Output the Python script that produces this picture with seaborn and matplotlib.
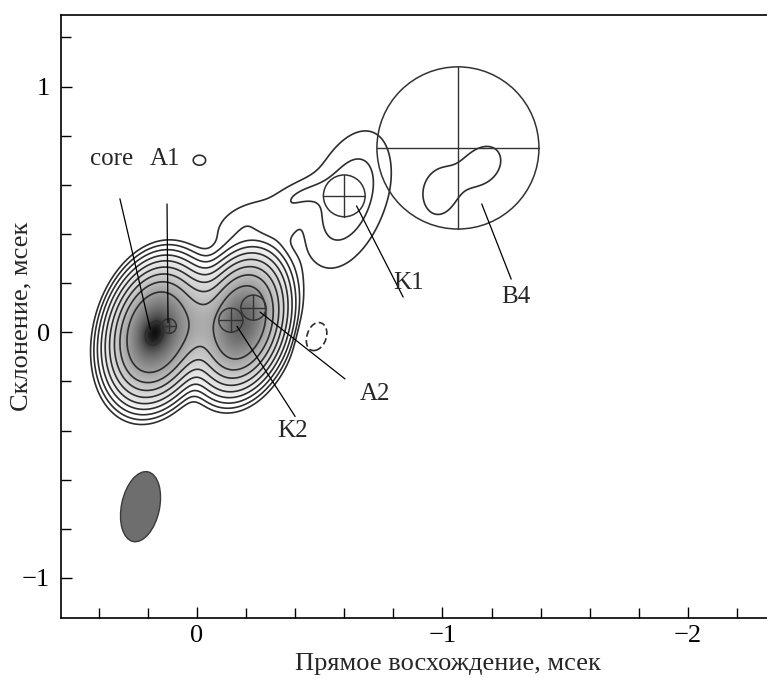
import numpy as np
import matplotlib
matplotlib.use("Agg")
import matplotlib.pyplot as plt
import seaborn as sns
from matplotlib.patches import Circle, Ellipse
from matplotlib.colors import PowerNorm, LinearSegmentedColormap
from matplotlib.ticker import MultipleLocator

# --- brightness model: gaussian components (RA, Dec in mas) ---
comp_ra = [0.17, 0.175, 0.00, -0.18, -0.20, -0.42, -0.36, -0.615, -0.01, -0.99, -1.165, -0.485]
comp_dec = [0.00, -0.005, 0.03, 0.04, 0.45, 0.56, 0.44, 0.54, 0.70, 0.57, 0.68, -0.015]
comp_peak = [1.0, 1.0, 0.13, 0.8, 0.0017, 0.0014, 0.0008, 0.0029, 0.0013, 0.0015, 0.0017, -0.0016]
comp_smaj = [0.103, 0.04, 0.09, 0.103, 0.11, 0.08, 0.06, 0.20, 0.028, 0.10, 0.08, 0.065]
comp_smin = [0.068, 0.028, 0.06, 0.065, 0.06, 0.04, 0.035, 0.105, 0.035, 0.07, 0.062, 0.045]
comp_tilt = [15, 20, 15, 15, 65, 70, 20, 20, 0, 10, 40, 20]

levels = [0.001, 0.002, 0.004, 0.008, 0.016, 0.032, 0.064, 0.128, 0.27, 1.34]
neg_levels = [-0.001]

# model-fit knots (circle with cross)
knot_names = ["A1", "K2", "A2", "K1", "B4"]
knot_ra = [0.114, -0.138, -0.23, -0.60, -1.063]
knot_dec = [0.025, 0.049, 0.10, 0.555, 0.75]
knot_r = [0.03, 0.049, 0.051, 0.085, 0.33]

# labels with leader lines
lab_text = ["core", "A1", "K2", "A2", "K1", "B4"]
lab_x = [0.346, 0.13, -0.39, -0.725, -0.86, -1.30]
lab_y = [0.706, 0.706, -0.404, -0.253, 0.20, 0.143]
line_x0 = [0.314, 0.122, -0.163, -0.257, -0.65, -1.16]
line_y0 = [0.543, 0.522, 0.024, 0.082, 0.514, 0.522]
line_x1 = [0.19, 0.118, -0.40, -0.603, -0.84, -1.28]
line_y1 = [0.012, 0.04, -0.343, -0.19, 0.143, 0.216]

# restoring beam
beam_ra, beam_dec, beam_w, beam_h, beam_pa = 0.23, -0.71, 0.155, 0.29, 12

sns.set_theme(style="ticks")
plt.rcParams['font.family'] = ['Liberation Serif', 'DejaVu Serif']
plt.rcParams['axes.unicode_minus'] = True

ra = np.linspace(-2.4, 0.6, 901)
dec = np.linspace(-1.25, 1.35, 781)
X, Y = np.meshgrid(ra, dec)
img = np.zeros_like(X)
for x0, y0, p, sa, sb, t in zip(comp_ra, comp_dec, comp_peak, comp_smaj, comp_smin, comp_tilt):
    th = np.radians(t)
    dx, dy = X - x0, Y - y0
    a = -dx * np.sin(th) + dy * np.cos(th)
    b = dx * np.cos(th) + dy * np.sin(th)
    img += p * np.exp(-0.5 * (a / sa) ** 2 - 0.5 * (b / sb) ** 2)

fig = plt.figure(figsize=(7.67, 6.78), dpi=100)
ax = fig.add_axes([0.0795, 0.0885, 0.9205, 0.889])

cmap = LinearSegmentedColormap.from_list("grey_map", ["#ffffff", "#101010"])
cmap.set_under("white")
ax.imshow(img, extent=(ra[0], ra[-1], dec[0], dec[-1]), origin="lower",
          cmap=cmap, norm=PowerNorm(0.45, vmin=0.006, vmax=2.0), aspect="auto",
          interpolation="bilinear", zorder=0)
ax.contour(X, Y, img, levels=levels, colors="#2e2e2e", linewidths=1.2, zorder=2)
ax.contour(X, Y, img, levels=neg_levels, colors="#2e2e2e", linewidths=1.2,
           linestyles=[(0, (4, 2))], zorder=2)

lc = "#333333"
for x0, y0, r in zip(knot_ra, knot_dec, knot_r):
    ax.add_patch(Circle((x0, y0), r, fill=False, ec=lc, lw=1.1, zorder=3))
    ax.plot([x0 - r, x0 + r], [y0, y0], color=lc, lw=1.0, zorder=3)
    ax.plot([x0, x0], [y0 - r, y0 + r], color=lc, lw=1.0, zorder=3)

for t, tx, ty, xa, ya, xb, yb in zip(lab_text, lab_x, lab_y, line_x0, line_y0, line_x1, line_y1):
    ax.plot([xa, xb], [ya, yb], color="black", lw=0.9, zorder=4)
    ax.text(tx, ty, t, fontsize=18, ha="center", va="center", zorder=5)

ax.add_patch(Ellipse((beam_ra, beam_dec), beam_w, beam_h, angle=beam_pa,
                     fc="#6e6e6e", ec="#3a3a3a", lw=1.0, zorder=3))

ax.set_xlim(0.554, -2.322)
ax.set_ylim(-1.163, 1.29)
ax.set_xticks([0, -1, -2])
ax.set_yticks([-1, 0, 1])
ax.xaxis.set_minor_locator(MultipleLocator(0.2))
ax.yaxis.set_minor_locator(MultipleLocator(0.2))
ax.tick_params(which="both", direction="in", top=False, right=False, width=1.0,
               labelsize=19, colors="black")
ax.tick_params(which="major", length=8)
ax.tick_params(axis="x", which="major", pad=5)
ax.tick_params(axis="y", which="major", pad=8)
ax.tick_params(which="minor", length=7)
for s in ax.spines.values():
    s.set_linewidth(1.2)
    s.set_color("black")
ax.spines["right"].set_visible(False)

ax.set_xlabel("Прямое восхождение, мсек", fontsize=19)
ax.set_ylabel("Склонение, мсек", fontsize=19)
ax.xaxis.set_label_coords(0.548, -0.058)
ax.yaxis.set_label_coords(-0.04, 0.5)

fig.savefig("out.png", dpi=100)
